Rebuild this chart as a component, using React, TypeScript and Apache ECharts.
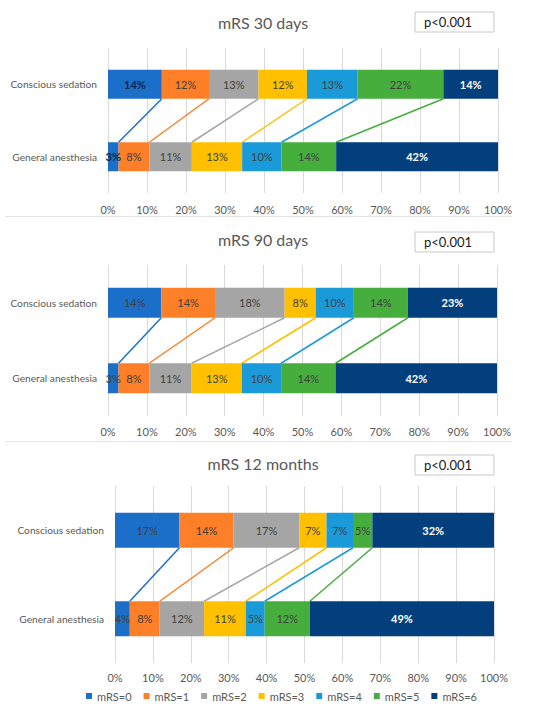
import React, { useEffect, useRef } from "react";
import * as echarts from "echarts";

const levels = ["mRS=0", "mRS=1", "mRS=2", "mRS=3", "mRS=4", "mRS=5", "mRS=6"];
const colors = ["#1c6fc8", "#fd7f27", "#a5a5a5", "#ffc000", "#1b9ad9", "#45ae3d", "#023f7c"];
const groups = ["Conscious sedation", "General anesthesia"];
const panelTitles = ["mRS 30 days", "mRS 90 days", "mRS 12 months"];
const pValues = ["p<0.001", "p<0.001", "p<0.001"];
const xTicks = [0, 10, 20, 30, 40, 50, 60, 70, 80, 90, 100];

const cs30 = [13.8, 12.1, 12.7, 12.4, 13.0, 22.0, 14.0];
const ga30 = [2.7, 7.9, 10.9, 12.9, 10.1, 14.0, 41.5];
const cs90 = [13.7, 13.8, 17.9, 8.0, 9.8, 13.9, 22.9];
const ga90 = [2.7, 7.9, 10.9, 12.9, 10.1, 14.0, 41.5];
const cs12m = [17.0, 14.3, 17.3, 7.2, 7.0, 5.1, 32.1];
const ga12m = [3.9, 7.9, 11.7, 11.0, 5.0, 11.9, 48.6];

const panelData = [
  [cs30, ga30],
  [cs90, ga90],
  [cs12m, ga12m],
];

const FONT = "Lato";

// layout (pixels)
const grids = [
  { left: 108, right: 52, top: 48, height: 145 },
  { left: 108, right: 53, top: 265, height: 151 },
  { left: 115, right: 56, top: 486, height: 177 },
];
const barWidths = [29, 30, 35];
const titleYs = [22, 239, 463];
const boxYs = [12, 232, 455];
const labelMargins = [11, 10, 9];

function cumulative(arr: number[]) {
  const out: number[] = [];
  let s = 0;
  for (let i = 0; i < arr.length - 1; i++) {
    s += arr[i];
    out.push(s);
  }
  return out;
}

export default function App() {
  const ref = useRef<HTMLDivElement>(null);
  useEffect(() => {
    if (!ref.current) return;
    const chart = echarts.init(ref.current, undefined, { renderer: "svg" });

    const series: any[] = [];
    panelData.forEach((pd, p) => {
      levels.forEach((lv, i) => {
        series.push({
          type: "bar",
          name: lv,
          xAxisIndex: p,
          yAxisIndex: p,
          stack: "s" + p,
          barWidth: barWidths[p],
          itemStyle: { color: colors[i] },
          label: {
            show: true,
            position: "inside",
            fontFamily: FONT,
            fontSize: 11,
            color: i === 6 ? "#ffffff" : p === 0 && i === 0 ? "#0d2748" : "#404040",
            fontWeight: i === 6 || (p === 0 && i === 0) ? "bold" : "normal",
            formatter: (prm: any) => Math.round(prm.value) + "%",
          },
          data: [pd[0][i], pd[1][i]],
        });
      });
      const c1 = cumulative(pd[0]);
      const c2 = cumulative(pd[1]);
      const bw = barWidths[p];
      series.push({
        type: "custom",
        xAxisIndex: p,
        yAxisIndex: p,
        silent: true,
        encode: { x: [0, 1], y: 3 },
        renderItem: (params: any, api: any) => {
          const a = api.coord([api.value(0), 0]);
          const b = api.coord([api.value(1), 1]);
          return {
            type: "line",
            shape: { x1: a[0], y1: a[1] + bw / 2, x2: b[0], y2: b[1] - bw / 2 },
            style: { stroke: colors[api.value(2)], lineWidth: 1.5 },
          };
        },
        data: c1.map((v, k) => [v, c2[k], k, 0]),
      });
    });

    const graphic: any[] = [];
    panelTitles.forEach((t, p) => {
      graphic.push({
        type: "text",
        x: 263,
        y: titleYs[p],
        style: {
          text: t,
          fontFamily: FONT,
          fontSize: 16,
          fill: "#595959",
          textAlign: "center",
          textVerticalAlign: "middle",
        },
      });
      graphic.push({
        type: "rect",
        shape: { x: 415, y: boxYs[p], width: 79, height: 20 },
        style: { fill: "#ffffff", stroke: "#c8c8c8", lineWidth: 1 },
      });
      graphic.push({
        type: "text",
        x: 424,
        y: boxYs[p] + 10,
        style: {
          text: pValues[p],
          fontFamily: FONT,
          fontSize: 13,
          fill: "#1a1a1a",
          textVerticalAlign: "middle",
        },
      });
    });
    graphic.push({
      type: "line",
      shape: { x1: 5, y1: 216.5, x2: 512, y2: 216.5 },
      style: { stroke: "#e3e3e3", lineWidth: 1 },
    });
    graphic.push({
      type: "line",
      shape: { x1: 5, y1: 441.5, x2: 512, y2: 441.5 },
      style: { stroke: "#e3e3e3", lineWidth: 1 },
    });

    chart.setOption({
      animation: false,
      textStyle: { fontFamily: FONT },
      grid: grids.map((g) => ({ ...g, containLabel: false })),
      xAxis: grids.map((_, p) => ({
        type: "value",
        gridIndex: p,
        min: xTicks[0],
        max: xTicks[xTicks.length - 1],
        interval: 10,
        axisLine: { show: false },
        axisTick: { show: false },
        splitLine: { lineStyle: { color: "#d9d9d9", width: 1 } },
        axisLabel: {
          formatter: "{value}%",
          color: "#595959",
          fontFamily: FONT,
          fontSize: 11,
          margin: labelMargins[p],
        },
      })),
      yAxis: grids.map((_, p) => ({
        type: "category",
        gridIndex: p,
        inverse: true,
        data: groups,
        axisLine: { show: false },
        axisTick: { show: false },
        axisLabel: { color: "#595959", fontFamily: FONT, fontSize: 10.2, margin: 11 },
      })),
      legend: {
        data: levels,
        left: 84,
        top: 688,
        padding: 2,
        icon: "rect",
        itemWidth: 6,
        itemHeight: 6,
        itemGap: 12,
        textStyle: { color: "#595959", fontFamily: FONT, fontSize: 11, lineHeight: 12 },
        selectedMode: false,
      },
      graphic,
      series,
    });
    return () => chart.dispose();
  }, []);
  return (
    <div
      ref={ref}
      style={{ position: "fixed", left: 0, top: 0, width: 550, height: 706, background: "#fff" }}
    />
  );
}
